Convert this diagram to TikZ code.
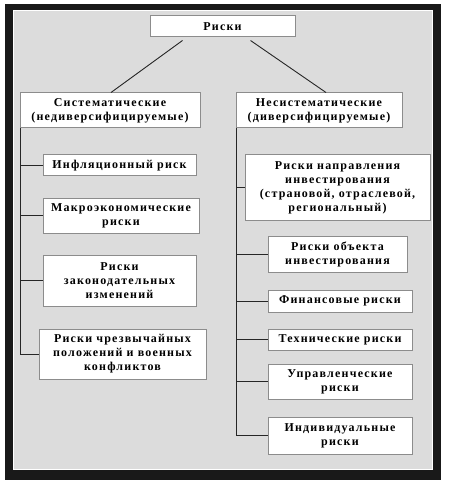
\documentclass[tikz,border=0pt]{standalone}
\usepackage{fontspec}
\setmainfont{Liberation Serif}[LetterSpace=10]
\begin{document}
\begin{tikzpicture}[x=1pt,y=-1pt,
  box/.style={draw=boxgray, line width=1pt, fill=white, align=center,
    inner sep=1pt, font=\fontsize{12}{14}\selectfont\bfseries},
  conn/.style={draw=black!85, line width=0.9pt}]
\definecolor{boxgray}{HTML}{8C8C8C}
\definecolor{panel}{HTML}{DCDCDC}
\useasboundingbox (0,0) rectangle (451,486);
\fill[white] (0,0) rectangle (451,486);
\fill[black!90] (5,4) rectangle (441,480);
\fill[white] (13,10) rectangle (433,470);
\fill[panel] (14,11) rectangle (432,469);

\node[box, minimum width=145pt, minimum height=21pt] (top) at (222.5,26.5) {Риски};
\node[box, minimum width=180pt, minimum height=35pt] (sys) at (110,110.5) {Систематические\\(недиверсифицируемые)};
\node[box, minimum width=166pt, minimum height=35pt] (non) at (319,110.5) {Несистематические\\(диверсифицируемые)};

\node[box, minimum width=153pt, minimum height=21pt] (l1) at (119.5,165.5) {Инфляционный риск};
\node[box, minimum width=156pt, minimum height=35pt] (l2) at (121,215.5) {Макроэкономические\\риски};
\node[box, minimum width=153pt, minimum height=51pt] (l3) at (119.5,280.5) {Риски\\законодательных\\изменений};
\node[box, minimum width=167pt, minimum height=50pt] (l4) at (122.5,354) {Риски чрезвычайных\\положений и военных\\конфликтов};

\node[box, minimum width=185pt, minimum height=65pt] (r1) at (337.5,187.5) {Риски направления\\инвестирования\\(страновой, отраслевой,\\региональный)};
\node[box, minimum width=139pt, minimum height=36pt] (r2) at (337.5,254) {Риски объекта\\инвестирования};
\node[box, minimum width=144pt, minimum height=22pt] (r3) at (340,301) {Финансовые риски};
\node[box, minimum width=144pt, minimum height=21pt] (r4) at (340,339.5) {Технические риски};
\node[box, minimum width=144pt, minimum height=35pt] (r5) at (340,381.5) {Управленческие\\риски};
\node[box, minimum width=144pt, minimum height=37pt] (r6) at (340,435.5) {Индивидуальные\\риски};

\draw[conn] ([xshift=-40pt,yshift=-3pt]top.south) -- ([xshift=1pt]sys.north);
\draw[conn] ([xshift=28pt,yshift=-3pt]top.south) -- ([xshift=7pt]non.north);

\coordinate (lt) at ([xshift=1pt]sys.south west);
\draw[conn] (lt) |- (l4.west);
\foreach \n in {l1,l2,l3} \draw[conn] (lt |- \n.west) -- (\n.west);

\coordinate (rt) at ([xshift=0.5pt]non.south west);
\draw[conn] (rt) |- (r6.west);
\foreach \n in {r1,r2,r3,r4,r5} \draw[conn] (rt |- \n.west) -- (\n.west);
\end{tikzpicture}
\end{document}
